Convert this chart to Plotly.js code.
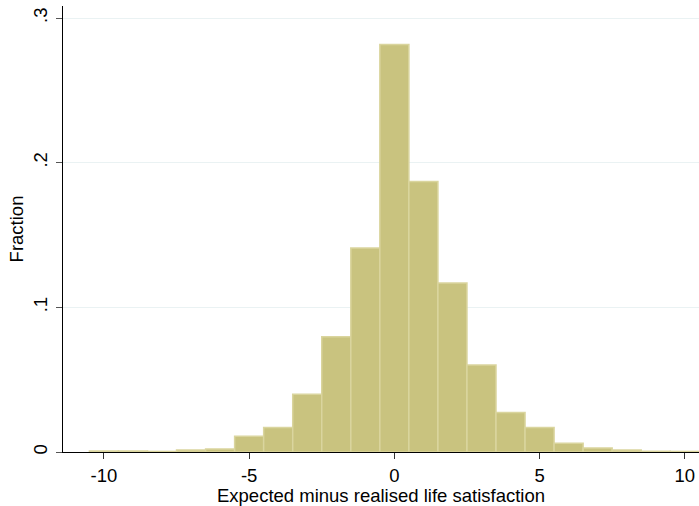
<!DOCTYPE html>
<html>
<head>
<meta charset="utf-8">
<script src="https://cdn.plot.ly/plotly-3.0.1.min.js"></script>
<style>
html,body{margin:0;padding:0;background:#fff;}
#chart{width:699px;height:506px;}
</style>
</head>
<body>
<div id="chart"></div>
<script>
var binCenters = [-10,-9,-8,-7,-6,-5,-4,-3,-2,-1,0,1,2,3,4,5,6,7,8,9,10];
var fractions = [0.0007,0.0007,0.0004,0.0014,0.0021,0.0109,0.0169,0.0399,0.0797,0.1411,0.2817,0.1869,0.1169,0.0602,0.0273,0.0169,0.0060,0.0028,0.0014,0.0005,0.0004];
var xTickVals = [-10,-5,0,5,10];
var xTickText = ["-10","-5","0","5","10"];
var yTickVals = [0,0.1,0.2,0.3];
var yTickText = ["0",".1",".2",".3"];

var trace = {
  type: 'bar',
  x: binCenters,
  y: fractions,
  width: 1,
  marker: {color: 'rgb(201,195,127)', line: {color: 'rgb(218,213,158)', width: 1.5}},
  hoverinfo: 'x+y'
};

var layout = {
  width: 699, height: 506,
  margin: {l: 63, r: 0, t: 6, b: 54, pad: 0},
  paper_bgcolor: '#fff', plot_bgcolor: '#fff',
  showlegend: false,
  bargap: 0,
  font: {family: 'Liberation Sans, Arial, sans-serif', size: 18.5, color: '#000'},
  xaxis: {
    range: [-11.41, 10.49],
    tickmode: 'array', tickvals: xTickVals, ticktext: xTickText,
    ticks: 'outside', ticklen: 6, tickcolor: '#333', tickwidth: 1,
    ticklabelstandoff: 1,
    showline: true, linecolor: '#000', linewidth: 1,
    showgrid: false, zeroline: false,
    tickfont: {size: 18.5},
    title: {text: 'Expected minus realised life satisfaction', font: {size: 18.5}, standoff: 0}
  },
  yaxis: {
    range: [0, 0.3083],
    tickmode: 'array', tickvals: yTickVals, ticktext: yTickText,
    tickangle: -90,
    ticks: 'outside', ticklen: 6, tickcolor: '#555', tickwidth: 1,
    ticklabelstandoff: 2,
    showline: true, linecolor: '#000', linewidth: 1,
    showgrid: true, gridcolor: '#EAF2F3', gridwidth: 1,
    zeroline: false,
    tickfont: {size: 18.5},
    title: {text: 'Fraction', font: {size: 18.5}, standoff: 1}
  }
};

Plotly.newPlot('chart', [trace], layout, {displayModeBar: false, staticPlot: true});
</script>
</body>
</html>
